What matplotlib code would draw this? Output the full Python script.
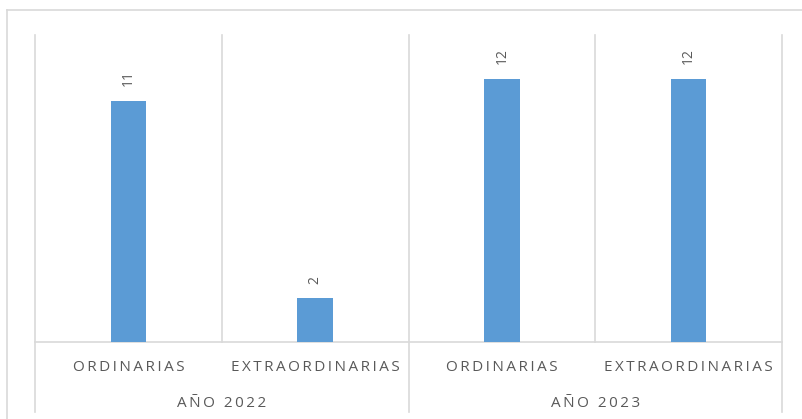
import matplotlib.pyplot as plt
from matplotlib.lines import Line2D
from matplotlib.transforms import blended_transform_factory

categories = ["ORDINARIAS", "EXTRAORDINARIAS", "ORDINARIAS", "EXTRAORDINARIAS"]
years = ["AÑO 2022", "AÑO 2023"]
values = [11, 2, 12, 12]

bar_color = "#5B9BD5"
grid_color = "#D9D9D9"
text_color = "#595959"
fam = ["Open Sans", "DejaVu Sans"]


def spaced(s):
    # imitate excel's letter spacing
    return "\u2009".join(s)


fig = plt.figure(figsize=(8.02, 4.19), dpi=100)
ax = fig.add_axes([35 / 802, 77 / 419, 747 / 802, 307 / 419])

x = list(range(len(values)))
ax.bar(x, values, width=0.19, color=bar_color, zorder=3)
ax.set_xlim(-0.5, len(values) - 0.5)
ax.set_ylim(0, 14)

for xi, v in zip(x, values):
    ax.annotate(str(v), (xi, v), xytext=(0, 10.5), textcoords="offset points",
                rotation=90, ha="center", va="bottom", fontsize=10,
                color=text_color, family=fam)

for s in ["top", "right", "left"]:
    ax.spines[s].set_visible(False)
ax.spines["bottom"].set_color(grid_color)
ax.spines["bottom"].set_linewidth(1.2)
ax.set_xticks([])
ax.set_yticks([])

trans = blended_transform_factory(ax.transData, ax.transAxes)
# vertical separators
for xs in [0.5, 2.5]:
    ax.plot([xs, xs], [0, 1], transform=trans, color=grid_color, lw=1.2,
            clip_on=False, zorder=1)
for xs in [-0.5, 1.5, 3.5]:
    ax.plot([xs, xs], [-0.228, 1], transform=trans, color=grid_color, lw=1.2,
            clip_on=False, zorder=1)

for xi, c in zip(x, categories):
    ax.text(xi, -0.083, spaced(c), transform=trans, ha="center", va="center",
            fontsize=11, color=text_color, family=fam)
for i, y in enumerate(years):
    ax.text(2 * i + 0.5, -0.2, spaced(y), transform=trans, ha="center",
            va="center", fontsize=11, color=text_color, family=fam)

# outer chart border (cropped at right and bottom)
fx = 7 / 802
fy = 1 - 10 / 419
fig.add_artist(Line2D([fx, 1], [fy, fy], color=grid_color, lw=1.2))
fig.add_artist(Line2D([fx, fx], [0, fy], color=grid_color, lw=1.2))

fig.savefig("out.png", dpi=100)
